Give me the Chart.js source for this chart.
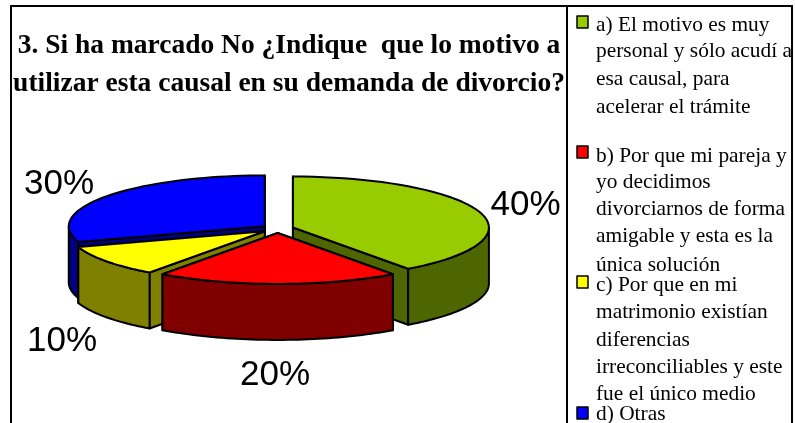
<!DOCTYPE html>
<html><head><meta charset="utf-8">
<style>html,body{margin:0;padding:0;background:#fff}canvas{display:block}</style>
<script src="https://cdn.jsdelivr.net/npm/chart.js@4"></script>
</head><body><canvas id="c" width="795" height="423"></canvas>
<script>
const titleLines = ["3. Si ha marcado No ¿Indique  que lo motivo a", "utilizar esta causal en su demanda de divorcio?"];
const categories = ["a) El motivo es muy personal y sólo acudí a esa causal, para acelerar el trámite",
  "b) Por que mi pareja y yo decidimos divorciarnos de forma amigable y esta es la única solución",
  "c) Por que en mi matrimonio existían diferencias irreconciliables y este fue el único medio",
  "d) Otras"];
const values = [40, 20, 10, 30];
const topColors = ["#99CC00", "#FF0000", "#FFFF00", "#0000FF"];
const sideColors = ["#4D6600", "#800000", "#808000", "#000080"];
const legendLines = [
  ["a) El motivo es muy", "personal y sólo acudí a", "esa causal, para", "acelerar el trámite"],
  ["b) Por que mi pareja y", "yo decidimos", "divorciarnos de forma", "amigable y esta es la", "única solución"],
  ["c) Por que en mi", "matrimonio existían", "diferencias", "irreconciliables y este", "fue el único medio"],
  ["d) Otras"]
];
// layout constants
const legendBaselines = [[31,57,85,113],[162,188,215,242,271],[291,318,346,373,400],[420]];
const legendBoxY = [16,146,276,407];
const labelPos = [[525.5,205],[275,375],[62,341],[59,184]];
const PIE = {cx:277.7, cy:228.8, k:0.26, depth:56, explode:16};
const paintOrder = [3,0,2,1];

function ell(ctx,x,y,r,a0,a1,ccw){
  const n=48;
  for(let i=0;i<=n;i++){
    const a=a0+(a1-a0)*i/n;
    ctx.lineTo(x+r*Math.cos(a), y+r*PIE.k*Math.sin(a));
  }
}
function face(ctx,fill){ctx.closePath();ctx.fillStyle=fill;ctx.fill();ctx.lineWidth=2;ctx.strokeStyle="#000";ctx.lineJoin="round";ctx.stroke();}

const pie3d = {
  id:"pie3d",
  beforeDraw(chart){
    const ctx=chart.ctx;
    ctx.save();ctx.fillStyle="#fff";ctx.fillRect(0,0,795,423);
    ctx.strokeStyle="#000";ctx.lineWidth=2;
    ctx.beginPath();
    ctx.moveTo(11,423);ctx.lineTo(11,6);ctx.lineTo(792,6);ctx.lineTo(792,423);
    ctx.moveTo(567,6);ctx.lineTo(567,423);
    ctx.stroke();
    ctx.restore();
  },
  beforeDatasetsDraw(chart){
    const ctx=chart.ctx, meta=chart.getDatasetMeta(0);
    ctx.save();
    paintOrder.forEach(i=>{
      const arc=meta.data[i];
      const p=arc.getProps(["startAngle","endAngle","outerRadius"],true);
      const mid=(p.startAngle+p.endAngle)/2, r=p.outerRadius, e=arc.options.offset;
      const x=PIE.cx+e*Math.cos(mid), y=PIE.cy+e*PIE.k*Math.sin(mid), D=PIE.depth;
      const sx=x+r*Math.cos(p.startAngle), sy=y+r*PIE.k*Math.sin(p.startAngle);
      const ex=x+r*Math.cos(p.endAngle), ey=y+r*PIE.k*Math.sin(p.endAngle);
      const walls=[[sx,sy],[ex,ey]].sort((a,b)=>a[1]-b[1]);
      walls.forEach(w=>{
        ctx.beginPath();ctx.moveTo(x,y);ctx.lineTo(w[0],w[1]);ctx.lineTo(w[0],w[1]+D);ctx.lineTo(x,y+D);
        face(ctx,sideColors[i]);
      });
      const a0=Math.max(p.startAngle,0), a1=Math.min(p.endAngle,Math.PI);
      if(a1>a0){
        ctx.beginPath();ell(ctx,x,y,r,a0,a1);ell(ctx,x,y+D,r,a1,a0);
        face(ctx,sideColors[i]);
      }
      ctx.beginPath();ctx.moveTo(x,y);ell(ctx,x,y,r,p.startAngle,p.endAngle);
      face(ctx,topColors[i]);
    });
    // percentage labels
    ctx.fillStyle="#000";ctx.font="35px 'Liberation Sans'";ctx.textAlign="center";ctx.textBaseline="middle";
    values.forEach((v,i)=>ctx.fillText(v+"%",labelPos[i][0],labelPos[i][1]));
    // legend
    ctx.font="21.4px 'Liberation Serif'";ctx.textAlign="left";ctx.textBaseline="alphabetic";
    legendLines.forEach((lines,i)=>{
      ctx.fillStyle=topColors[i];ctx.strokeStyle="#000";ctx.lineWidth=1.5;
      ctx.fillRect(577,legendBoxY[i],11,12);ctx.strokeRect(577,legendBoxY[i],11,12);
      ctx.fillStyle="#000";
      lines.forEach((t,j)=>ctx.fillText(t,596,legendBaselines[i][j]));
    });
    ctx.restore();
    return false;
  }
};
new Chart(document.getElementById("c"),{
  type:"pie",
  data:{labels:categories,datasets:[{data:values,backgroundColor:topColors,borderColor:"#000",borderWidth:2,offset:16,radius:196}]},
  plugins:[pie3d],
  options:{
    responsive:false,animation:false,
    layout:{padding:{left:11,right:228,top:27,bottom:0}},
    plugins:{
      legend:{display:false},tooltip:{enabled:false},
      title:{display:true,text:titleLines,color:"#000",font:{family:"'Liberation Serif'",size:27.5,weight:"bold",lineHeight:1.39},padding:0}
    }
  }
});
</script></body></html>
